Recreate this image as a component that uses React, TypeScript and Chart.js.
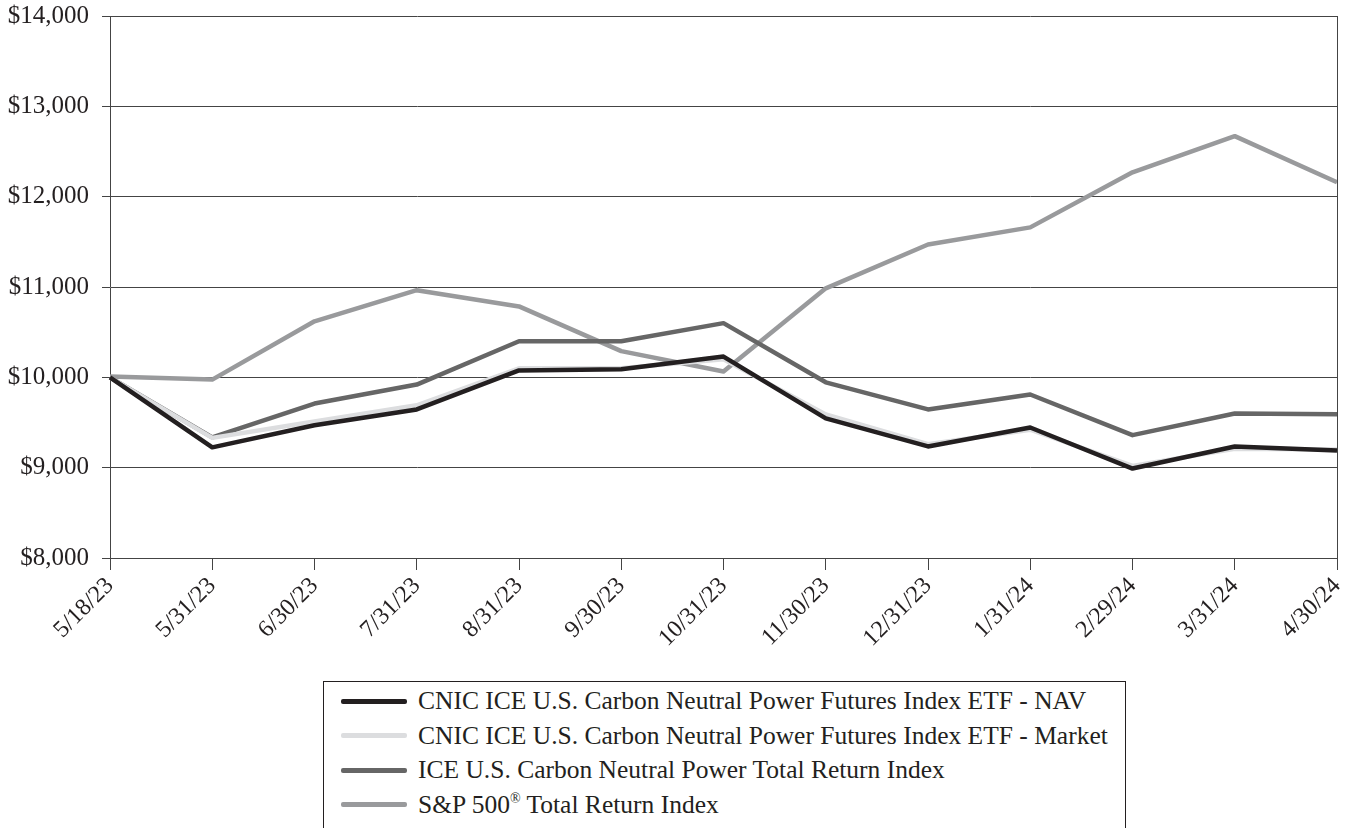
import React, { useEffect, useRef } from "react";
import { Chart, registerables } from "chart.js";

Chart.register(...registerables);

const dates = ["5/18/23", "5/31/23", "6/30/23", "7/31/23", "8/31/23", "9/30/23", "10/31/23", "11/30/23", "12/31/23", "1/31/24", "2/29/24", "3/31/24", "4/30/24"];
const navValues = [10000, 9225, 9470, 9645, 10077, 10090, 10230, 9545, 9235, 9445, 8990, 9235, 9190];
const marketValues = [10000, 9330, 9510, 9690, 10100, 10100, 10200, 9590, 9260, 9420, 9020, 9210, 9200];
const iceValues = [10000, 9335, 9710, 9920, 10400, 10400, 10600, 9945, 9645, 9810, 9360, 9600, 9590];
const spValues = [10010, 9975, 10620, 10965, 10785, 10290, 10065, 10985, 11470, 11660, 12270, 12670, 12160];

const seriesNames = [
  "CNIC ICE U.S. Carbon Neutral Power Futures Index ETF - NAV",
  "CNIC ICE U.S. Carbon Neutral Power Futures Index ETF - Market",
  "ICE U.S. Carbon Neutral Power Total Return Index",
  "S&P 500® Total Return Index",
];
const seriesColors = ["#231f20", "#dcdddf", "#666666", "#999a9c"];

const FONT = "'Liberation Serif', 'Times New Roman', serif";
const INK = "#231f20";

const frame = {
  id: "frame",
  afterDatasetsDraw(chart: any) {
    const { ctx, chartArea } = chart;
    ctx.save();
    ctx.strokeStyle = "#444";
    ctx.lineWidth = 1;
    ctx.beginPath();
    ctx.moveTo(chartArea.right + 0.5, chartArea.top);
    ctx.lineTo(chartArea.right + 0.5, chartArea.bottom);
    ctx.stroke();
    ctx.restore();
  },
};

function LegendLabel({ text }: { text: string }) {
  const idx = text.indexOf("®");
  if (idx < 0) return <span>{text}</span>;
  return (
    <span>
      {text.slice(0, idx)}
      <sup style={{ fontSize: "0.55em", verticalAlign: "0.7em" }}>®</sup>
      {text.slice(idx + 1)}
    </span>
  );
}

export default function App() {
  const ref = useRef<HTMLCanvasElement>(null);

  useEffect(() => {
    if (!ref.current) return;
    const values = [navValues, marketValues, iceValues, spValues];
    const chart = new Chart(ref.current, {
      type: "line",
      data: {
        labels: dates,
        datasets: values.map((v, i) => ({
          label: seriesNames[i],
          data: v,
          borderColor: seriesColors[i],
          backgroundColor: seriesColors[i],
          borderWidth: 4.5,
          pointRadius: 0,
          tension: 0,
          borderJoinStyle: "round" as const,
          borderCapStyle: "butt" as const,
        })),
      },
      options: {
        responsive: false,
        animation: false,
        layout: { padding: { top: 16, right: 24, left: 0, bottom: 0 } },
        plugins: { legend: { display: false }, tooltip: { enabled: false } },
        scales: {
          x: {
            type: "category",
            offset: false,
            afterFit: (s: any) => { s.height = 112; },
            grid: { drawOnChartArea: false, drawTicks: true, tickLength: 12, color: "#444" },
            border: { display: true, color: "#444", width: 1 },
            ticks: {
              maxRotation: 45,
              minRotation: 45,
              autoSkip: false,
              padding: 2,
              color: INK,
              font: { family: FONT, size: 24 },
            },
          },
          y: {
            min: 8000,
            max: 14000,
            afterFit: (s: any) => { s.width = 110; s.paddingTop = 0; s.paddingBottom = 0; },
            grid: { color: "#444", lineWidth: 1, drawTicks: true, tickLength: 8 },
            border: { display: true, color: "#444", width: 1 },
            ticks: {
              stepSize: 1000,
              padding: 13,
              color: INK,
              font: { family: FONT, size: 25 },
              callback: (v: any) => "$" + Number(v).toLocaleString("en-US"),
            },
          },
        },
      },
      plugins: [frame],
    });
    return () => chart.destroy();
  }, []);

  return (
    <div style={{ position: "fixed", left: 0, top: 0, width: 1361, height: 828, overflow: "hidden", background: "#fff" }}>
      <canvas ref={ref} width={1361} height={670} style={{ position: "absolute", left: 0, top: 0, width: 1361, height: 670 }} />
      <div
        style={{
          position: "absolute",
          left: 323,
          top: 681,
          width: 803,
          height: 160,
          border: "1px solid " + INK,
          boxSizing: "border-box",
          fontFamily: FONT,
          fontSize: 25.5,
          color: INK,
          paddingTop: 2,
        }}
      >
        {seriesNames.map((n, i) => (
          <div key={i} style={{ display: "flex", alignItems: "center", height: 34.5, whiteSpace: "nowrap" }}>
            <span style={{ display: "inline-block", width: 66, height: 5, background: seriesColors[i], marginLeft: 17, marginRight: 11, borderRadius: 2 }} />
            <LegendLabel text={n} />
          </div>
        ))}
      </div>
    </div>
  );
}
